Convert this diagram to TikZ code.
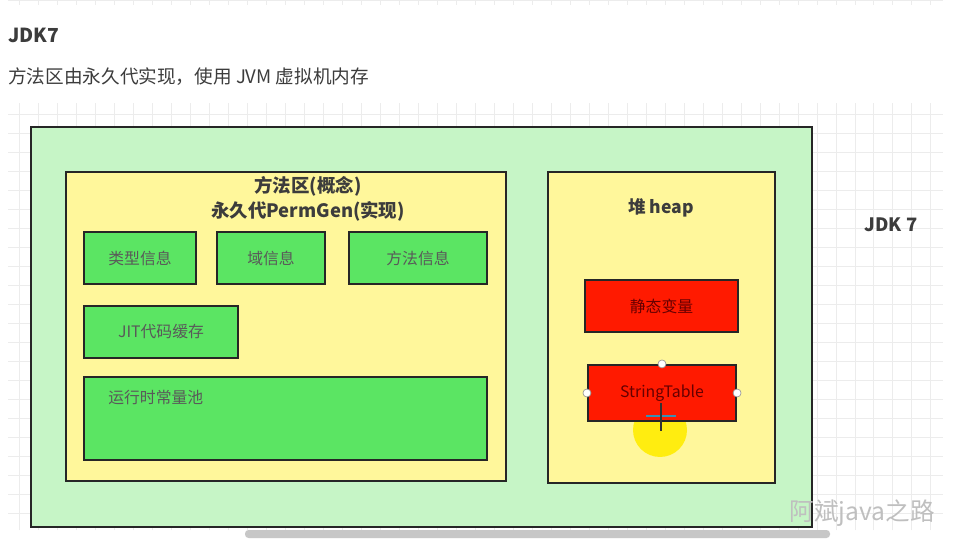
\documentclass[tikz,border=0pt]{standalone}
\usepackage{fontspec}
\setmainfont{Noto Sans CJK SC}
\usepackage{tikz}
\usetikzlibrary{positioning,fit}
\definecolor{outerg}{HTML}{C6F5C6}
\definecolor{paley}{HTML}{FFF79B}
\definecolor{boxg}{HTML}{5BE563}
\definecolor{boxr}{HTML}{FF1A00}
\definecolor{txt}{HTML}{3C3C3C}
\definecolor{gridc}{HTML}{ECECEC}
\newcommand{\fs}[1]{\fontsize{#1}{#1}\selectfont}

\begin{document}
\begin{tikzpicture}[x=0.02cm,y=-0.02cm]
      \tikzset{
        frame/.style={draw=black!85, line width=1.2pt, inner sep=0pt},
        gbox/.style={frame, fill=boxg, label={[text=black!65, font=\fs{9pt}]center:#1}},
        rbox/.style={frame, fill=boxr, label={[text=red!40!black, font=\fs{9pt}]center:#1}},
        handle/.style={circle, draw=black!40, fill=white, inner sep=0pt, minimum size=0.16cm}
      }
      \useasboundingbox (0,0) rectangle (953,540);
      \fill[white] (0,0) rectangle (953,540);
      \begin{scope}
        \clip (8,-20) rectangle (943,5);
        \draw[gridc, step=0.38cm] (8,-20) grid (943,5);
      \end{scope}
      \draw[gridc, step=0.38cm] (8,103) grid (943,530);
      \node[anchor=west, inner sep=0pt, text=txt, font=\bfseries\fs{11pt}] (ttl) at (8,35) {JDK7};
      \node[anchor=west, inner sep=0pt, text=txt, font=\fs{10.6pt}] (sub) at (8,77) {方法区由永久代实现，使用 JVM 虚拟机内存};
      \node[frame, fill=outerg, fit={(31,127) (812,527)}] (jvm) {};
      \node[frame, fill=paley, fit={(66,172) (506,481)}] (perm) {};
      \node[frame, fill=paley, fit={(548,172) (775,483)}] (heap) {};
      \node[font=\bfseries\fs{10.5pt}, text=txt, align=center] (permt) at (308,199) {方法区(概念)\\[2pt]永久代PermGen(实现)};
      \node[font=\bfseries\fs{10pt}, text=txt] (heapt) at (661,208) {堆 heap};
      \node[gbox=类型信息, fit={(84,232) (196,284)}] (type) {};
      \node[gbox=域信息, fit={(217,232) (325,284)}] (field) {};
      \node[gbox=方法信息, fit={(349,232) (487,284)}] (meth) {};
      \node[gbox=JIT代码缓存, fit={(84,306) (238,358)}] (jit) {};
      \node[gbox={}, fit={(84,377) (487,460)}] (pool) {};
      \node[anchor=west, inner sep=0pt, text=black!65, font=\fs{9pt}] (poolt) at (108,398) {运行时常量池};
      \fill[yellow!95!orange, opacity=0.9] (660,430) circle (0.54cm);
      \node[rbox=静态变量, fit={(585,280) (738,332)}] (static) {};
      \node[rbox=StringTable, fit={(588,365) (736,421)}] (strtab) {};
      \node[handle] (h1) at (strtab.north) {};
      \node[handle] (h2) at (strtab.west) {};
      \node[handle] (h3) at (strtab.east) {};
      \coordinate (cur) at (661,416);
      \draw[cyan!70!black, line width=1.2pt] ([xshift=-0.3cm]cur) -- ([xshift=0.3cm]cur);
      \draw[black!80, line width=1.2pt] ([yshift=0.26cm]cur) -- ([yshift=-0.3cm]cur);
      \node[font=\bfseries\fs{10.5pt}, text=txt] (jdk) at (891,225) {JDK 7};
      \node[text=black!25, font=\fs{14pt}] (mark) at (862,513) {阿斌java之路};
      \fill[black!22, rounded corners=2pt] (245,530) rectangle (830,538);
    \end{tikzpicture}
\end{document}
